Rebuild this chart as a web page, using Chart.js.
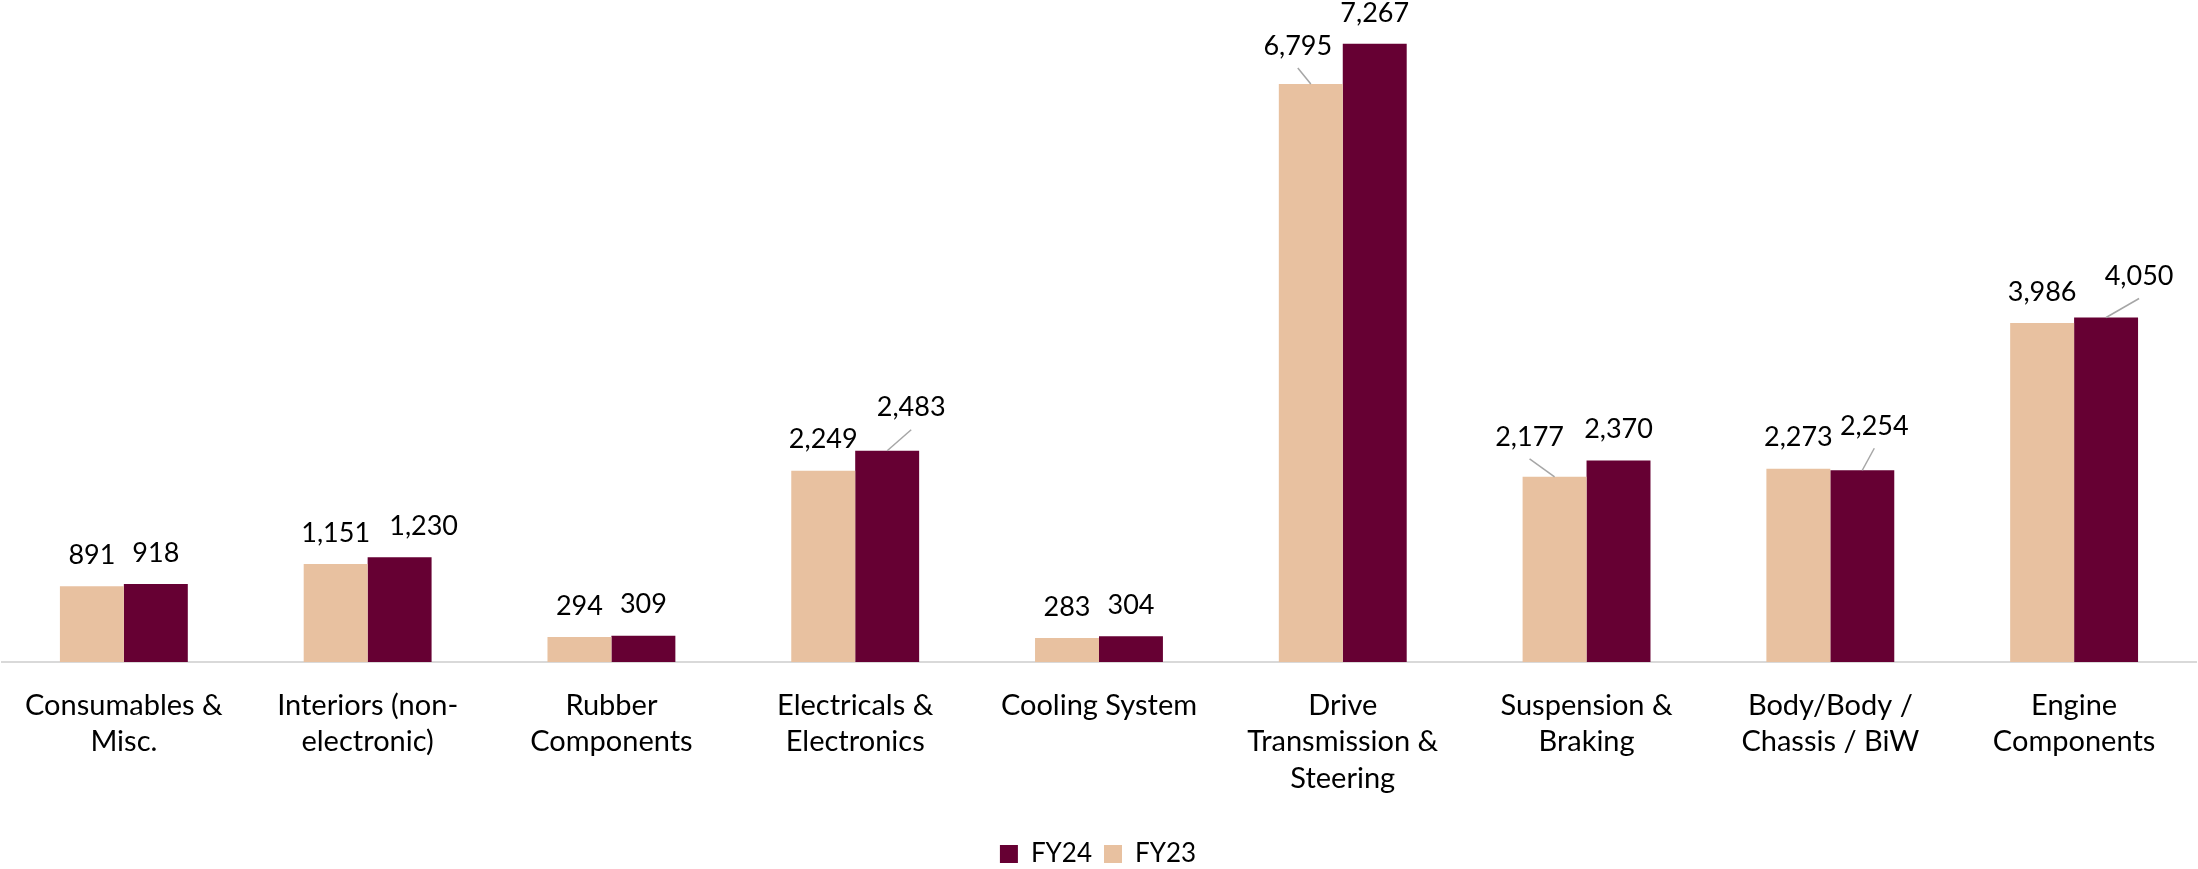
<!DOCTYPE html>
<html><head><meta charset="utf-8">
<script src="https://cdn.jsdelivr.net/npm/chart.js@4/dist/chart.umd.min.js"></script>
<style>html,body{margin:0;padding:0;background:#fff;} #wrap{width:2198px;height:869px;position:relative;}</style>
</head><body><div id="wrap"><canvas id="c" width="2198" height="869"></canvas></div>
<script>
const categories = [['Consumables &','Misc.'],['Interiors (non-','electronic)'],['Rubber','Components'],['Electricals &','Electronics'],['Cooling System'],['Drive','Transmission &','Steering'],['Suspension &','Braking'],['Body/Body /','Chassis / BiW'],['Engine','Components']];
const fy23 = [891,1151,294,2249,283,6795,2177,2273,3986];
const fy24 = [918,1230,309,2483,304,7267,2370,2254,4050];
const seriesNames = ['FY23','FY24'];
// value-label nudges: [dx, dy, leader line]
const fy23LabelNudge = [[0,0,0],[0,0,0],[0,0,0],[0,0,0],[0,0,0],[-13,-7,1],[-25,-9,1],[0,0,0],[0,0,0]];
const fy24LabelNudge = [[0,0,0],[24,0,0],[0,0,0],[24,-12,1],[0,0,0],[0,0,0],[0,0,0],[12,-13,1],[33,-10,1]];

const FONT = 'Lato';
const valueLabels = {
  id:'valueLabels',
  afterDatasetsDraw(chart){
    const ctx = chart.ctx;
    const nudges = [fy23LabelNudge, fy24LabelNudge];
    ctx.save();
    ctx.font = '27px ' + FONT;
    ctx.textAlign = 'center';
    ctx.textBaseline = 'middle';
    chart.data.datasets.forEach((ds, di) => {
      const meta = chart.getDatasetMeta(di);
      meta.data.forEach((bar, i) => {
        const [dx, dy, lead] = nudges[di][i];
        const lx = bar.x + dx, ly = bar.y - 31 + dy;
        if (lead) {
          ctx.strokeStyle = '#A6A6A6'; ctx.lineWidth = 1.5;
          ctx.beginPath(); ctx.moveTo(lx, ly + 22); ctx.lineTo(bar.x, bar.y); ctx.stroke();
        }
        ctx.fillStyle = '#000';
        ctx.fillText(ds.data[i].toLocaleString('en-US'), lx, ly);
      });
    });
    ctx.restore();
  }
};

new Chart(document.getElementById('c'), {
  type: 'bar',
  data: {
    labels: categories,
    datasets: [
      {label: seriesNames[0], data: fy23, backgroundColor: '#E8C1A0'},
      {label: seriesNames[1], data: fy24, backgroundColor: '#660033'}
    ]
  },
  options: {
    responsive: false,
    animation: false,
    layout: {padding: {top: 7, left: 0, right: 2, bottom: -8}},
    datasets: {bar: {categoryPercentage: 0.5246, barPercentage: 1}},
    scales: {
      x: {
        grid: {display: false, drawTicks: false},
        border: {display: true, color: '#D9D9D9', width: 2},
        ticks: {color: '#000', font: {family: FONT, size: 29, lineHeight: 1.26}, padding: 25, maxRotation: 0, autoSkip: false},
        afterFit: s => { s.height = 167; }
      },
      y: {display: false, min: 0, max: 7700}
    },
    plugins: {
      legend: {
        position: 'bottom', reverse: true,
        labels: {color: '#000', font: {family: FONT, size: 26}, boxWidth: 18, boxHeight: 18, padding: 12}
      },
      tooltip: {enabled: false}
    }
  },
  plugins: [valueLabels]
});
</script>
</body></html>
